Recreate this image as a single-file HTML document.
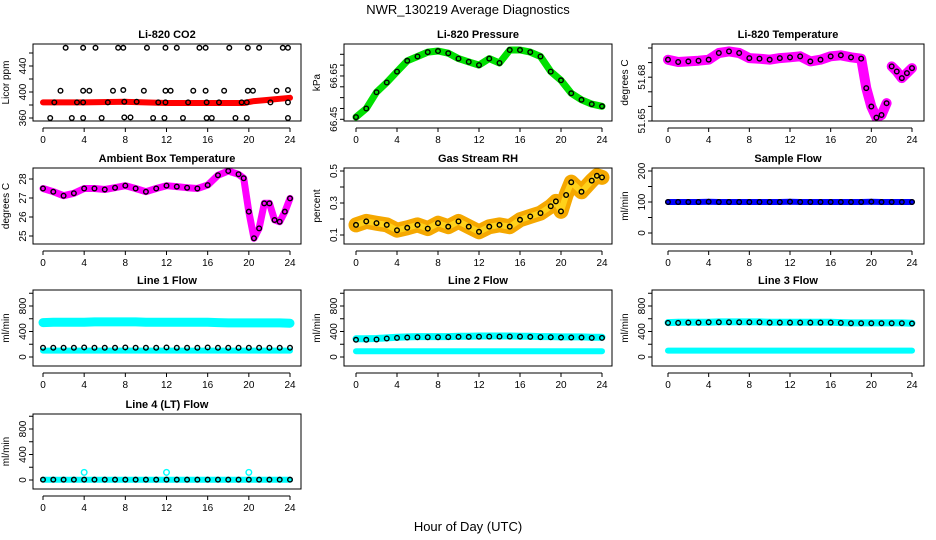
<!DOCTYPE html>
<html><head><meta charset="utf-8"><style>
body{margin:0;background:#fff;}
svg{display:block;font-family:"Liberation Sans",sans-serif;}
</style></head><body>
<svg id="chart" width="936" height="540" viewBox="0 0 936 540">
<rect x="0" y="0" width="936" height="540" fill="#fff"/>
<text x="468" y="14" text-anchor="middle" font-size="13">NWR_130219  Average Diagnostics</text>
<text x="468" y="531" text-anchor="middle" font-size="13">Hour of Day (UTC)</text>
</svg>
<script>
const xTicks=[0,4,8,12,16,20,24];
const hrs=[0,1,2,3,4,5,6,7,8,9,10,11,12,13,14,15,16,17,18,19,20,21,22,23,24];
// CO2
const co2BandHrs=[0,4,8,12,16,19.5,20.5,22,24];
const co2Band=[384,384,385,383,383,383,386,388,391];
const co2PtHrs=[2.2,3.9,5.1,7.3,7.8,10.1,11.9,13.0,15.2,15.8,18.1,19.9,21.0,23.3,23.8, 1.7,3.9,4.5,6.8,7.8,9.8,11.9,12.4,14.6,15.8,17.6,19.9,20.4,22.7,23.8, 1.1,3.3,3.9,6.3,7.9,9.1,11.2,11.9,14.1,15.9,17.1,19.3,19.8,22.1,23.8, 0.7,2.8,3.9,5.7,7.9,8.5,10.7,11.8,13.6,15.9,16.4,18.7,19.8,23.8];
const co2Pts=[468,468,468,468,468,468,468,468,468,468,468,468,468,468,468, 402,402,402,402,403,402,402,402,402,402,402,402,402,402,403, 384,384,384,384,385,385,384,384,384,384,384,384,384,384,384, 360,360,360,360,361,361,360,360,360,360,360,360,360,360];
// Pressure
const presVals=[66.46,66.50,66.575,66.62,66.67,66.72,66.74,66.76,66.765,66.755,66.73,66.715,66.70,66.73,66.71,66.77,66.77,66.76,66.74,66.67,66.63,66.57,66.54,66.52,66.51];
// Li-820 temperature
const tempHrs=[0,1,2,3,4,5,6,7,8,9,10,11,12,13,14,15,16,17,18,19,19.5,20,20.5,21,21.5,null,22,22.5,23,23.5,24];
const tempVals=[51.6870,51.6854,51.6858,51.6863,51.6870,51.6916,51.6927,51.6916,51.6881,51.6877,51.6870,51.6881,51.6886,51.6893,51.6858,51.6870,51.6893,51.6900,51.6886,51.6877,51.6675,51.6549,51.6473,51.6491,51.6572,null,51.6824,51.6789,51.6744,51.6778,51.6812];
// Ambient box temperature
const ambHrs=[0,1,2,3,4,5,6,7,8,9,10,11,12,13,14,15,16,17,18,19,19.5,20,20.5,21,21.5,22,22.5,23,23.5,24];
const ambVals=[27.5,27.33,27.12,27.25,27.5,27.5,27.45,27.54,27.65,27.5,27.33,27.5,27.65,27.6,27.54,27.5,27.68,28.2,28.42,28.25,28.04,26.28,24.88,25.4,26.72,26.72,25.84,25.75,26.28,26.98];
// RH
const rhHrs=[0,1,2,3,4,5,6,7,8,9,10,11,12,13,14,15,16,17,18,19,19.5,20,20.5,21,22,23,23.5,24];
const rhVals=[0.163,0.185,0.174,0.163,0.13,0.145,0.163,0.14,0.174,0.152,0.185,0.152,0.12,0.152,0.163,0.152,0.195,0.216,0.237,0.28,0.31,0.248,0.35,0.43,0.37,0.44,0.47,0.46];
// flows
const sampleVals=[100,100,100,100,101,100,100,100,100,100,100,100,101,100,100,100,100,100,100,100,101,100,100,100,100];
const l1Band=[540,545,545,545,545,550,550,550,550,550,545,545,545,545,545,545,545,540,535,535,535,535,535,535,530];
const l1Low=[100,100,100,100,100,100,100,100,100,100,100,100,100,100,100,100,100,100,100,100,100,100,100,100,100];
const l1Pts=[145,145,145,145,150,145,145,145,150,145,145,145,150,145,145,145,150,145,145,145,145,145,145,145,145];
const l2Band=[285,285,290,300,310,315,320,320,320,320,325,325,330,330,330,330,325,325,320,320,315,315,315,310,310];
const l2Low=[90,90,90,90,90,90,90,90,90,90,90,90,90,90,90,90,90,90,90,90,90,90,90,90,90];
const l2Pts=[270,270,275,290,300,305,310,310,310,312,315,315,318,320,320,320,320,315,312,310,305,305,305,300,300];
const l3Band=[540,545,545,545,545,550,550,550,550,550,545,545,545,545,545,545,545,540,535,535,535,535,535,535,530];
const l3Low=[100,100,100,100,100,100,100,100,100,100,100,100,100,100,100,100,100,100,100,100,100,100,100,100,100];
const l3Pts=[535,535,540,540,545,545,545,545,545,545,540,540,540,540,540,540,540,535,530,530,530,530,530,530,525];
const l4Band=[5,5,5,5,5,5,5,5,5,5,5,5,5,5,5,5,5,5,5,5,5,5,5,5,5];
const l4Spike=[120,120,120];
const l4SpikeHrs=[4,12,20];

const svg=document.getElementById('chart');
const NS='http://www.w3.org/2000/svg';
function mk(tag,attrs,parent){const e=document.createElementNS(NS,tag);for(const k in attrs)e.setAttribute(k,attrs[k]);(parent||svg).appendChild(e);return e;}

const cols=[{l:33,r:301,x0:43,x24:290},{l:344,r:612,x0:356,x24:602},{l:652,r:924,x0:668,x24:912}];
const rows=[{t:44,b:121},{t:168,b:244},{t:290,b:366},{t:414,b:489}];

function makePanel(ci,ri,name,title,ylab,ya,yb,yTickVals,yTickLabels){
  const c=cols[ci],r=rows[ri];
  const g=mk('g',{});
  
  
  const xs=h=>c.x0+(c.x24-c.x0)*h/24;
  const ys=v=>ya[1]+(v-ya[0])*(yb[1]-ya[1])/(yb[0]-ya[0]);
  const t=mk('text',{x:(c.l+c.r)/2,y:r.t-6,'text-anchor':'middle','font-size':11,'font-weight':'bold'},g);
  t.textContent=title;
  
  
  const yl=mk('text',{x:0,y:0,'text-anchor':'middle','font-size':10,transform:`translate(${c.l-24},${(r.t+r.b)/2}) rotate(-90)`},g);
  yl.textContent=ylab;
  
  
  const plot=mk('g',{},g);
  const clip='clip'+ci+ri;
  const cp=mk('clipPath',{id:clip},g);mk('rect',{x:c.l,y:r.t,width:c.r-c.l,height:r.b-r.t},cp);
  plot.setAttribute('clip-path',`url(#${clip})`);
  const box=mk('rect',{x:c.l,y:r.t,width:c.r-c.l,height:r.b-r.t,fill:'none',stroke:'#000','stroke-width':1},g);
  
  
  const ax=r.b+7;
  mk('line',{x1:xs(0),x2:xs(24),y1:ax,y2:ax,stroke:'#000'},g);
  xTicks.forEach(h=>{
    mk('line',{x1:xs(h),x2:xs(h),y1:ax,y2:ax+4,stroke:'#000'},g);
    const tl=mk('text',{x:xs(h),y:ax+15,'text-anchor':'middle','font-size':10},g);
    tl.textContent=h;
    
    
  });
  yTickVals.forEach((v,i)=>{
    const y=ys(v);
    mk('line',{x1:c.l-4,x2:c.l,y1:y,y2:y,stroke:'#000'},g);
    if(yTickLabels[i]){
      const tl=mk('text',{x:0,y:0,'text-anchor':'middle','font-size':10,transform:`translate(${c.l-7},${y}) rotate(-90)`},g);
      tl.textContent=yTickLabels[i];
      
      
    }
  });
  return {plot,xs,ys};
}
function band(p,hs,vs,color,w,name){
  let d='',pen=false;
  hs.forEach((h,i)=>{if(h===null||vs[i]===null){pen=false;return;}d+=(pen?'L':'M')+p.xs(h).toFixed(1)+','+p.ys(vs[i]).toFixed(1);pen=true;});
  const e=mk('path',{d,fill:'none',stroke:color,'stroke-width':w,'stroke-linecap':'round','stroke-linejoin':'round'},p.plot);
  
  
}
function pts(p,hs,vs,color,name,rad){
  hs.forEach((h,i)=>{
    if(h===null||vs[i]===null)return;
    const e=mk('circle',{cx:p.xs(h),cy:p.ys(vs[i]),r:rad||2.3,fill:'none',stroke:color,'stroke-width':1.4},p.plot);
    
    
  });
}
let p;
p=makePanel(0,0,'panel-co2','Li-820 CO2','Licor ppm',[360,118],[440,66],[360,380,400,420,440,460],['360','','400','','440','']);
band(p,co2BandHrs,co2Band,'#ff0000',6,'co2-band');pts(p,co2PtHrs,co2Pts,'#000','co2-point');
p=makePanel(1,0,'panel-pressure','Li-820 Pressure','kPa',[66.45,119.3],[66.75,54.3],[66.45,66.5,66.55,66.6,66.65,66.7,66.75],['66.45','','','','66.65','','']);
band(p,hrs,presVals,'#00e000',7,'pressure-band');pts(p,hrs,presVals,'#000','pressure-point');
p=makePanel(2,0,'panel-li820-temp','Li-820 Temperature','degrees C',[51.645,121],[51.695,48],[51.645,51.655,51.665,51.675,51.685,51.695],['51.65','','','51.68','','']);
band(p,tempHrs,tempVals,'#ff00ff',10,'temp-band');pts(p,tempHrs,tempVals,'#000','temp-point');
p=makePanel(0,1,'panel-ambient','Ambient Box Temperature','degrees C',[25,236],[28,179],[25,26,27,28],['25','26','27','28']);
band(p,ambHrs,ambVals,'#ff00ff',7,'ambient-band');pts(p,ambHrs,ambVals,'#000','ambient-point');
p=makePanel(1,1,'panel-rh','Gas Stream RH','percent',[0.1,235],[0.5,171],[0.1,0.2,0.3,0.4,0.5],['0.1','','0.3','','0.5']);
band(p,rhHrs,rhVals,'#f5a800',15,'rh-band');band(p,rhHrs,rhVals,'#ffd21a',6,'rh-band-inner');pts(p,rhHrs,rhVals,'#000','rh-point');
p=makePanel(2,1,'panel-sample-flow','Sample Flow','ml/min',[0,233],[200,171],[0,50,100,150,200],['0','','100','','200']);
band(p,hrs,sampleVals,'#0000ff',6,'sample-band');pts(p,hrs,sampleVals,'#000','sample-point');
const fT=[0,200,400,600,800,1000],fL=['0','','400','','800',''];
p=makePanel(0,2,'panel-line1','Line 1 Flow','ml/min',[0,357],[800,306],fT,fL);
band(p,hrs,l1Band,'#00ffff',9,'line1-band');band(p,hrs,l1Low,'#00ffff',6,'line1-low');pts(p,hrs,l1Pts,'#000','line1-point');
p=makePanel(1,2,'panel-line2','Line 2 Flow','ml/min',[0,357],[800,306],fT,fL);
band(p,hrs,l2Band,'#00ffff',7,'line2-band');band(p,hrs,l2Low,'#00ffff',6,'line2-low');pts(p,hrs,l2Pts,'#000','line2-point');
p=makePanel(2,2,'panel-line3','Line 3 Flow','ml/min',[0,357],[800,306],fT,fL);
band(p,hrs,l3Band,'#00ffff',7,'line3-band');band(p,hrs,l3Low,'#00ffff',6,'line3-low');pts(p,hrs,l3Pts,'#000','line3-point');
p=makePanel(0,3,'panel-line4','Line 4 (LT) Flow','ml/min',[0,480],[800,429],fT,fL);
band(p,hrs,l4Band,'#00ffff',6,'line4-band');pts(p,l4SpikeHrs,l4Spike,'#00ffff','line4-spike',2.8);pts(p,hrs,l4Band,'#000','line4-point');
</script>
</body></html>
